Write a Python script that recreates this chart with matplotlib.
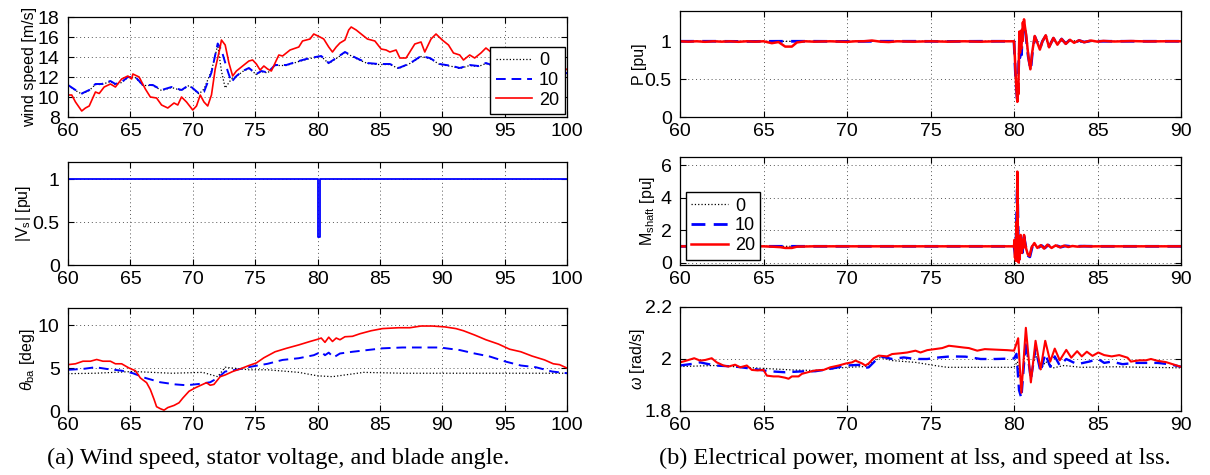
import matplotlib
matplotlib.use('Agg')
import matplotlib.pyplot as plt

plt.rcParams['font.family'] = ['Liberation Sans', 'DejaVu Sans']
plt.rcParams['mathtext.fontset'] = 'custom'
plt.rcParams['mathtext.rm'] = 'Liberation Sans'
plt.rcParams['mathtext.it'] = 'Liberation Sans:italic'

labels = ['0', '10', '20']

# wind speed [m/s]
wind_0 = [(60, 11.15), (60.6, 10.65), (61.1, 10.3), (61.7, 10.65), (62.2, 11.25), (62.7, 11.25), (63.4, 11.55),
          (63.8, 11.25), (64.3, 11.45), (64.8, 11.95), (65.4, 11.95), (66.0, 11.15), (66.8, 11.15), (67.5, 10.65),
          (68.3, 10.95), (69.1, 10.65), (69.7, 11.15), (70.5, 10.3), (70.9, 10.8), (71.5, 12.6), (72.0, 15.2),
          (72.3, 12.6), (72.6, 10.9), (73.1, 11.8), (73.5, 12.05), (74.0, 12.55), (74.5, 12.85), (75.1, 12.25),
          (75.5, 12.55), (76.0, 12.4), (76.6, 13.15), (77.5, 13.15), (78.5, 13.55), (79.4, 13.85), (80.3, 14.05),
          (80.9, 13.35), (81.5, 13.85), (82.2, 14.45), (83.1, 13.85), (84.0, 13.35), (84.9, 13.25), (85.8, 13.25),
          (86.5, 12.85), (87.1, 13.15), (87.7, 13.55), (88.3, 14.05), (89.0, 13.85), (89.8, 13.25), (90.8, 13.05),
          (91.4, 12.85), (92.2, 13.15), (92.9, 13.05), (93.5, 13.35), (94.2, 13.05), (95.5, 12.75), (96.5, 12.55),
          (97.5, 12.95), (98.5, 12.65), (99.3, 12.25), (100, 12.35)]
wind_10 = [(60, 11.2), (60.6, 10.7), (61.1, 10.35), (61.7, 10.7), (62.2, 11.3), (62.7, 11.3), (63.4, 11.6),
           (63.8, 11.3), (64.3, 11.5), (64.8, 12.0), (65.4, 12.0), (66.0, 11.2), (66.8, 11.2), (67.5, 10.7),
           (68.3, 11.0), (69.1, 10.7), (69.7, 11.2), (70.5, 10.35), (70.9, 10.5), (71.5, 12.45), (72.0, 15.35),
           (72.3, 14.7), (72.8, 12.6), (73.1, 11.5), (73.5, 12.1), (74.0, 12.6), (74.5, 12.9), (75.1, 12.3),
           (75.5, 12.6), (76.0, 12.45), (76.6, 13.2), (77.5, 13.2), (78.5, 13.6), (79.4, 13.9), (80.3, 14.1),
           (80.9, 13.4), (81.5, 13.9), (82.2, 14.5), (83.1, 13.9), (84.0, 13.4), (84.9, 13.3), (85.8, 13.3),
           (86.5, 12.9), (87.1, 13.2), (87.7, 13.6), (88.3, 14.1), (89.0, 13.9), (89.8, 13.3), (90.8, 13.1),
           (91.4, 12.9), (92.2, 13.2), (92.9, 13.1), (93.5, 13.4), (94.2, 13.1), (95.5, 12.8), (96.5, 12.6),
           (97.5, 13.0), (98.5, 12.7), (99.3, 12.3), (100, 12.4)]
wind_20 = [(60, 10.2), (60.3, 10.2), (60.6, 9.5), (61.1, 8.6), (61.4, 8.9), (61.7, 9.1), (62.2, 10.5),
           (62.5, 10.35), (62.9, 11.0), (63.4, 11.3), (63.8, 11.0), (64.3, 11.8), (64.8, 12.1), (65.1, 11.8),
           (65.2, 12.3), (65.7, 12.0), (66.2, 10.8), (66.6, 10.0), (67.1, 9.9), (67.5, 9.2), (68.0, 8.9),
           (68.5, 9.4), (68.8, 9.2), (69.1, 10.0), (69.5, 9.5), (70.0, 8.7), (70.3, 9.1), (70.6, 10.2),
           (70.9, 9.5), (71.2, 9.1), (71.5, 10.2), (71.8, 12.8), (72.2, 15.0), (72.3, 15.7), (72.6, 15.2),
           (72.9, 13.4), (73.2, 12.1), (73.5, 12.6), (74.0, 13.1), (74.5, 13.6), (74.8, 13.7), (75.1, 13.3),
           (75.4, 12.7), (75.7, 13.1), (76.0, 12.8), (76.3, 12.6), (76.6, 13.4), (76.9, 14.2), (77.2, 14.1),
           (77.8, 14.7), (78.5, 15.0), (78.8, 15.6), (79.4, 15.8), (79.7, 16.3), (80.2, 16.0), (80.5, 15.8),
           (80.9, 15.0), (81.2, 14.5), (81.5, 15.0), (81.8, 15.4), (82.2, 15.7), (82.5, 16.7), (82.7, 17.0),
           (83.1, 16.7), (83.5, 16.3), (84.0, 15.8), (84.6, 15.6), (85.1, 14.8), (85.5, 14.7), (85.8, 14.5),
           (86.3, 14.7), (86.6, 13.9), (87.1, 13.9), (87.5, 14.7), (87.8, 15.3), (88.3, 15.5), (88.6, 14.5),
           (89.1, 15.8), (89.5, 16.3), (90.0, 15.7), (90.5, 15.2), (90.9, 14.4), (91.4, 14.2), (91.7, 13.7),
           (92.2, 14.2), (92.6, 13.9), (93.1, 14.4), (93.5, 14.9), (94.0, 14.4), (94.2, 13.9), (95, 13.0),
           (96, 12.5), (97, 13.5), (98, 12.8), (99, 12.4), (99.6, 12.5), (100, 12.8)]

# stator voltage |Vs| [pu]
vs = [(60, 1.0), (80.0, 1.0), (80.0, 0.33), (80.2, 0.33), (80.2, 1.0), (100, 1.0)]

# blade angle [deg]
theta_0 = [(60, 4.35), (62.2, 4.4), (65.2, 4.6), (68.3, 4.4), (70.8, 4.5), (72.0, 4.0), (72.6, 5.1),
           (74.5, 4.8), (76.0, 4.8), (78.5, 4.5), (80.0, 4.1), (81.2, 4.0), (83.7, 4.5), (86.8, 4.4),
           (89.8, 4.4), (93, 4.4), (96, 4.4), (100, 4.4)]
theta_10 = [(60, 4.8), (61.2, 4.9), (62.2, 5.1), (63.1, 4.9), (64.3, 4.7), (65.2, 4.4), (66.2, 3.85),
            (67.4, 3.35), (68.6, 3.1), (69.5, 3.0), (70.5, 3.15), (71.4, 3.35), (72.0, 3.85), (72.6, 4.6),
            (73.5, 4.8), (74.8, 5.2), (76.0, 5.5), (77.2, 5.95), (78.5, 6.15), (79.7, 6.5), (80.3, 6.9),
            (80.6, 6.5), (80.9, 6.8), (81.3, 6.25), (81.8, 6.7), (82.8, 6.9), (84.0, 7.1), (85.2, 7.3),
            (86.8, 7.4), (88.3, 7.4), (89.8, 7.4), (91.4, 7.1), (92.6, 6.7), (93.8, 6.35), (95.1, 5.75),
            (96.3, 5.3), (97.5, 5.1), (98.8, 4.6), (100, 4.4)]
theta_20 = [(60, 5.4), (60.6, 5.5), (61.2, 5.8), (61.8, 5.8), (62.3, 6.0), (62.8, 5.8), (63.4, 5.8),
            (63.8, 5.5), (64.3, 5.5), (64.9, 5.0), (65.4, 4.7), (65.8, 3.85), (66.3, 3.3), (66.6, 2.5),
            (66.9, 1.35), (67.1, 0.5), (67.4, 0.27), (67.7, 0.1), (68.0, 0.4), (68.5, 0.65), (68.9, 0.96),
            (69.2, 1.5), (69.7, 2.3), (70.2, 2.7), (70.8, 3.1), (71.1, 3.3), (71.4, 3.0), (71.7, 3.1),
            (72.2, 4.0), (72.6, 4.2), (73.2, 4.6), (73.8, 4.9), (74.5, 5.3), (75.1, 5.6), (75.7, 6.2),
            (76.6, 6.9), (77.5, 7.3), (78.5, 7.7), (79.4, 8.1), (80.0, 8.35), (80.3, 8.5), (80.6, 8.0),
            (80.9, 8.6), (81.2, 8.1), (81.5, 8.5), (81.8, 8.3), (82.2, 8.65), (82.8, 8.7), (83.4, 9.0),
            (84.3, 9.35), (85.2, 9.6), (86.5, 9.7), (87.4, 9.7), (88.3, 9.9), (89.2, 9.9), (90.2, 9.8),
            (91.1, 9.6), (91.7, 9.35), (92.6, 8.85), (93.5, 8.3), (94.5, 7.8), (95.4, 7.2), (96.3, 6.9),
            (97.2, 6.4), (98.2, 5.95), (98.9, 5.5), (99.4, 5.4), (100, 5.0)]

# electrical power [pu]
p_0 = [(60, 1.0), (70, 1.0), (80, 1.0), (80.05, 0.7), (80.2, 0.22), (80.3, 0.8), (80.38, 0.9), (80.42, 0.83),
       (80.5, 1.05), (80.6, 1.22), (80.7, 1.1), (80.85, 0.8), (81.0, 0.64), (81.1, 0.86), (81.25, 1.05),
       (81.4, 0.98), (81.55, 0.91), (81.7, 1.0), (81.9, 1.06), (82.1, 0.94), (82.36, 1.04), (82.6, 0.96),
       (82.85, 1.02), (83.1, 0.975), (83.5, 1.01), (84, 0.99), (85, 1.0), (90, 1.0)]
p_10 = [(60, 1.0), (62, 1.0), (64, 0.998), (66, 1.0), (68, 1.0), (70, 0.998), (72, 1.0), (74, 1.0),
        (76, 0.998), (78, 1.0), (80, 1.0), (80.05, 0.75), (80.1, 0.5), (80.2, 0.2), (80.26, 0.5),
        (80.3, 0.85), (80.35, 0.78), (80.4, 0.95), (80.45, 0.82), (80.5, 1.1), (80.6, 1.24), (80.7, 1.1),
        (80.85, 0.8), (81.0, 0.62), (81.1, 0.85), (81.25, 1.06), (81.4, 0.98), (81.55, 0.9), (81.7, 1.0),
        (81.9, 1.07), (82.1, 0.93), (82.36, 1.04), (82.6, 0.96), (82.85, 1.03), (83.1, 0.97), (83.35, 1.02),
        (83.6, 0.98), (83.9, 1.01), (84.2, 0.99), (84.6, 1.005), (85.0, 1.0), (87, 1.0), (90, 1.0)]
p_20 = [(60, 1.0), (60.5, 0.995), (61, 1.0), (61.5, 0.993), (62, 1.0), (62.5, 0.995), (63, 1.0),
        (63.5, 0.993), (64, 1.0), (64.5, 0.995), (65, 1.0), (65.5, 0.975), (65.9, 0.99), (66.3, 0.93),
        (66.7, 0.93), (67.0, 0.985), (67.5, 1.0), (68, 0.995), (69, 1.0), (70, 0.992), (70.5, 1.0),
        (71, 1.0), (71.5, 1.01), (72, 0.995), (72.5, 0.99), (73, 1.0), (74, 0.995), (75, 1.0), (76, 0.995),
        (77, 1.0), (78, 0.995), (79, 1.0), (80.0, 1.0), (80.05, 0.8), (80.1, 0.55), (80.15, 0.35),
        (80.2, 0.2), (80.23, 0.45), (80.26, 0.3), (80.3, 0.9), (80.33, 1.13), (80.36, 0.85), (80.4, 1.1),
        (80.43, 0.9), (80.46, 1.15), (80.5, 1.0), (80.53, 1.25), (80.56, 1.15), (80.6, 1.29), (80.65, 1.2),
        (80.73, 1.08), (80.87, 0.78), (80.98, 0.63), (81.1, 0.87), (81.24, 1.07), (81.4, 0.98),
        (81.55, 0.89), (81.7, 1.0), (81.9, 1.08), (82.1, 0.92), (82.36, 1.045), (82.6, 0.955),
        (82.85, 1.03), (83.1, 0.965), (83.35, 1.02), (83.6, 0.98), (83.9, 1.013), (84.2, 0.987),
        (84.6, 1.01), (85.0, 0.995), (85.35, 1.005), (86, 0.997), (87, 1.003), (88, 0.998), (89, 1.0),
        (90, 1.0)]

# shaft moment [pu]
m_0 = [(60, 1.0), (70, 1.0), (80, 1.0), (80.1, 0.35), (80.2, 4.8), (80.28, 0.15), (80.4, 1.5), (80.5, 0.65),
       (80.6, 1.5), (80.8, 0.5), (80.95, 0.4), (81.1, 1.0), (81.25, 1.12), (81.45, 0.93), (81.65, 1.05),
       (81.85, 0.91), (82.05, 1.07), (82.3, 0.93), (82.55, 1.04), (82.8, 0.96), (83.1, 1.02), (83.5, 0.99),
       (84, 1.0), (90, 1.0)]
m_10 = [(60, 1.0), (65, 1.0), (66.5, 1.0), (70, 1.0), (80, 1.0), (80.1, 0.3), (80.2, 5.0), (80.28, 0.1),
        (80.4, 1.6), (80.5, 0.6), (80.6, 1.6), (80.8, 0.45), (80.95, 0.35), (81.1, 1.0), (81.25, 1.15),
        (81.45, 0.92), (81.65, 1.05), (81.85, 0.9), (82.05, 1.08), (82.3, 0.92), (82.55, 1.05), (82.8, 0.95),
        (83.1, 1.03), (83.5, 0.98), (84, 1.01), (85, 1.0), (90, 1.0)]
m_20 = [(60, 1.0), (61, 1.0), (62, 0.99), (63, 1.0), (64, 1.0), (65, 1.0), (65.5, 0.98), (66, 0.95),
        (66.3, 0.9), (66.7, 0.9), (67, 0.98), (68, 1.0), (70, 1.0), (72, 1.0), (74, 1.0), (76, 1.0),
        (78, 1.0), (80, 1.0), (80.03, 1.4), (80.06, 0.3), (80.09, 1.2), (80.12, 0.1), (80.15, 2.5),
        (80.18, 0.2), (80.2, 5.6), (80.23, 2.0), (80.26, 0.3), (80.28, 0.0), (80.31, 1.5), (80.34, 0.2),
        (80.37, 1.4), (80.4, 1.7), (80.44, 0.7), (80.47, 0.6), (80.52, 1.4), (80.56, 0.9), (80.6, 1.7),
        (80.66, 1.2), (80.73, 0.85), (80.83, 0.5), (80.93, 0.4), (81.06, 0.95), (81.22, 1.2), (81.4, 0.9),
        (81.6, 1.07), (81.8, 0.86), (82.0, 1.1), (82.25, 0.9), (82.5, 1.06), (82.75, 0.94), (83.0, 1.04),
        (83.25, 0.96), (83.5, 1.02), (83.8, 0.98), (84.2, 1.01), (84.6, 0.995), (85, 1.0), (90, 1.0)]

# speed at lss [rad/s]
w_0 = [(60, 1.971), (62.1, 1.975), (64.4, 1.966), (66.7, 1.958), (68.1, 1.956), (70.0, 1.968), (71.1, 1.971),
       (72.0, 2.006), (72.7, 1.994), (74.1, 1.987), (75.25, 1.975), (76.0, 1.968), (78.25, 1.968),
       (80.0, 1.968), (80.2, 1.99), (80.45, 1.9), (80.7, 2.05), (81.0, 1.94), (81.3, 2.02), (81.6, 1.96),
       (81.9, 1.99), (82.3, 1.965), (83, 1.975), (84, 1.968), (86, 1.97), (88, 1.968), (90, 1.966)]
w_10 = [(60, 1.975), (60.7, 1.981), (61.2, 1.987), (62.1, 1.975), (63.3, 1.971), (64.4, 1.962),
        (65.3, 1.953), (66.3, 1.949), (67.2, 1.952), (68.1, 1.953), (69.0, 1.962), (69.95, 1.975),
        (70.9, 1.978), (71.1, 1.966), (71.3, 1.968), (71.8, 2.0), (72.1, 2.009), (72.7, 2.0), (73.4, 2.006),
        (74.1, 2.0), (74.8, 2.0), (75.5, 2.006), (76.2, 2.01), (77.1, 2.009), (78.0, 2.0), (78.9, 2.0),
        (80.0, 2.002), (80.15, 2.02), (80.3, 1.88), (80.44, 1.85), (80.71, 2.07), (81.01, 1.92),
        (81.29, 2.04), (81.59, 1.95), (81.87, 2.02), (82.17, 1.97), (82.44, 2.01), (82.74, 1.975),
        (83.13, 2.0), (83.78, 1.98), (84.5, 1.99), (85.05, 2.0), (85.4, 1.985), (85.85, 1.99),
        (86.5, 1.98), (87.2, 1.985), (87.9, 1.985), (88.6, 1.985), (89.3, 1.98), (90.0, 1.97)]
w_20 = [(60, 1.987), (60.4, 1.994), (60.85, 2.003), (61.2, 1.994), (61.5, 1.996), (61.9, 2.003),
        (62.2, 1.987), (62.6, 1.975), (62.9, 1.971), (63.3, 1.978), (63.6, 1.968), (64.0, 1.975),
        (64.3, 1.958), (64.65, 1.956), (65.0, 1.958), (65.2, 1.936), (65.6, 1.933), (65.9, 1.933),
        (66.3, 1.928), (66.5, 1.924), (66.7, 1.933), (67.1, 1.933), (67.3, 1.943), (67.65, 1.949),
        (68.1, 1.956), (68.6, 1.958), (69.0, 1.968), (69.5, 1.975), (69.95, 1.983), (70.3, 1.987),
        (70.5, 1.994), (70.9, 1.983), (71.1, 1.975), (71.3, 1.983), (71.6, 2.003), (71.9, 2.013),
        (72.4, 2.010), (72.7, 2.019), (73.2, 2.022), (73.6, 2.025), (74.1, 2.032), (74.4, 2.025),
        (74.8, 2.034), (75.25, 2.038), (75.7, 2.042), (76.1, 2.051), (76.5, 2.048), (77.0, 2.044),
        (77.3, 2.042), (77.8, 2.032), (78.25, 2.038), (78.9, 2.036), (79.6, 2.034), (80.0, 2.032),
        (80.1, 2.05), (80.25, 2.08), (80.44, 1.87), (80.71, 2.12), (81.01, 1.91), (81.29, 2.07),
        (81.59, 1.96), (81.87, 2.07), (82.17, 1.99), (82.44, 2.04), (82.74, 1.995), (83.13, 2.035),
        (83.43, 2.005), (83.78, 2.03), (84.06, 2.01), (84.36, 2.028), (84.7, 2.012), (85.05, 2.025),
        (85.4, 2.015), (85.85, 2.01), (86.3, 2.015), (86.8, 2.005), (87.0, 1.99), (87.5, 1.995),
        (87.9, 1.995), (88.2, 2.0), (88.6, 1.993), (89.1, 1.988), (89.5, 1.98), (90.0, 1.97)]

W, H = 1210, 475


def px_axes(fig, x0, x1, top, bottom):
    return fig.add_axes([x0 / W, 1 - bottom / H, (x1 - x0) / W, (bottom - top) / H])


def style(ax, xlim, ylim, yticks, ylabel, lx):
    ax.set_xlim(xlim)
    ax.set_ylim(ylim)
    ax.set_xticks(range(xlim[0], xlim[1] + 1, 5))
    ax.set_yticks(yticks)
    ax.set_yticklabels([('%g' % v) for v in yticks])
    ax.grid(True, color='#555555', linestyle=(0, (1, 3)), linewidth=0.7)
    ax.tick_params(direction='in', top=True, right=True, length=4, width=0.8, labelsize=14)
    ax.tick_params(axis='x', pad=4.5)
    ax.tick_params(axis='y', pad=6)
    for s in ax.spines.values():
        s.set_linewidth(0.9)
    ax.set_ylabel(ylabel, fontsize=11.5)
    ax.yaxis.set_label_coords(lx, 0.5)


def draw(ax, s0, s10, s20, lw=1.2):
    t, v = zip(*s0)
    ax.plot(t, v, color='black', linestyle=':', linewidth=0.9, label=labels[0])
    t, v = zip(*s10)
    ax.plot(t, v, color='blue', linestyle=(0, (5, 3)), linewidth=lw + 0.2, label=labels[1])
    t, v = zip(*s20)
    ax.plot(t, v, color='red', linestyle='-', linewidth=lw, label=labels[2])


def legend(ax, **kw):
    ax.legend(fontsize=13, frameon=True, fancybox=False, edgecolor='black', framealpha=1,
              handlelength=2.0, handletextpad=0.4, borderpad=0.3, labelspacing=0.15,
              borderaxespad=0, **kw)


fig = plt.figure(figsize=(W / 100, H / 100), dpi=100)

# (a) left column
ax1 = px_axes(fig, 68, 567, 17, 117)
draw(ax1, wind_0, wind_10, wind_20)
style(ax1, (60, 100), (8, 18), [8, 10, 12, 14, 16, 18], 'wind speed [m/s]', -0.062)
legend(ax1, loc='lower right', bbox_to_anchor=(0.995, 0.03))

ax2 = px_axes(fig, 68, 567, 162, 265)
t, v = zip(*vs)
ax2.plot(t, v, color='blue', linewidth=1.3)
style(ax2, (60, 100), (0, 1.2), [0, 0.5, 1], r'|V$_{\rm s}$| [pu]', -0.07)

ax3 = px_axes(fig, 68, 567, 308, 411)
draw(ax3, theta_0, theta_10, theta_20)
style(ax3, (60, 100), (0, 12), [0, 5, 10], r'$\theta_{\rm ba}$ [deg]', -0.062)

# (b) right column
ax4 = px_axes(fig, 680, 1181, 11, 117)
draw(ax4, p_0, p_10, p_20, lw=1.8)
style(ax4, (60, 90), (0, 1.4), [0, 0.5, 1], 'P [pu]', -0.066)

ax5 = px_axes(fig, 680, 1181, 157, 265)
draw(ax5, m_0, m_10, m_20, lw=1.8)
style(ax5, (60, 90), (-0.15, 6.5), [0, 2, 4, 6], r'M$_{\rm shaft}$ [pu]', -0.045)
legend(ax5, loc='lower left', bbox_to_anchor=(0.012, 0.05))

ax6 = px_axes(fig, 680, 1181, 307, 411)
draw(ax6, w_0, w_10, w_20, lw=1.5)
style(ax6, (60, 90), (1.8, 2.2), [1.8, 2, 2.2], r'$\omega$ [rad/s]', -0.066)

fig.text(278 / W, 1 - 458 / H, '(a) Wind speed, stator voltage, and blade angle.', ha='center', va='center',
         fontsize=17.5, family='Liberation Serif')
fig.text(915 / W, 1 - 458 / H, '(b) Electrical power, moment at lss, and speed at lss.', ha='center',
         va='center', fontsize=17.5, family='Liberation Serif')

fig.savefig('out.png', dpi=100)
